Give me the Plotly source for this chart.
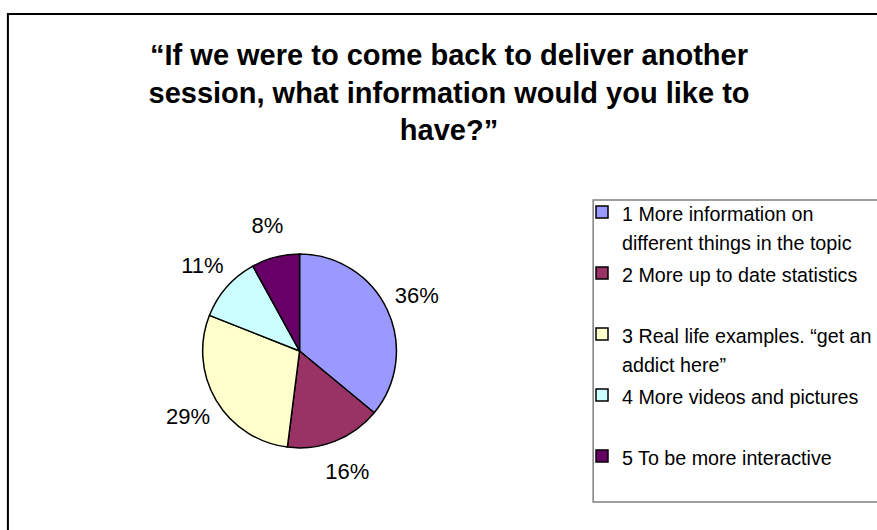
import plotly.graph_objects as go

# Survey answers (one string per answer, "\n" marks a wrapped legend line)
categories = [
    "1 More information on\ndifferent things in the topic",
    "2 More up to date statistics",
    "3 Real life examples. \u201cget an\naddict here\u201d",
    "4 More videos and pictures",
    "5 To be more interactive",
]
# Share of answers, percent
shares = [36, 16, 29, 11, 8]
slice_colors = ["#9999FF", "#993366", "#FFFFCC", "#CCFFFF", "#660066"]

title_lines = [
    "\u201cIf we were to come back to deliver another",
    "session, what information would you like to",
    "have?\u201d",
]

W, H = 877, 530
FONT = "Liberation Sans, Arial, sans-serif"
LEGEND_TEXT_PX = 19.7      # glyph size of legend entries
LEGEND_ROW_PX = 22.3       # sets the legend's line pitch (1.3 x this)
LABEL_PX = 22


def px_x(v):
    return v / W


def px_y(v):
    return 1 - v / H


def legend_label(text, last):
    lines = text.split("\n")
    parts = [f"<span style='font-size:{LEGEND_TEXT_PX}px'>{ln}</span>" for ln in lines]
    # every entry but the last occupies two rows so the entries are evenly pitched
    while len(parts) < 2 and not last:
        parts.append(" ")
    return "<br>".join(parts)


labels = [legend_label(c, i == len(categories) - 1) for i, c in enumerate(categories)]

# pie centre / radius in pixels
CX, CY, R = 303, 351, 98
# ring that carries the percentage labels around the pie
R_IN, R_OUT = 100, 162

fig = go.Figure()

fig.add_trace(
    go.Pie(
        labels=labels,
        values=shares,
        sort=False,
        direction="clockwise",
        rotation=0,
        marker=dict(colors=slice_colors, line=dict(color="black", width=1.5)),
        textinfo="none",
        domain=dict(x=[px_x(CX - R), px_x(CX + R)], y=[px_y(CY + R), px_y(CY - R)]),
        hoverinfo="percent",
        showlegend=True,
    )
)

# transparent ring holding the percent labels just outside the pie
fig.add_trace(
    go.Pie(
        labels=labels,
        values=shares,
        sort=False,
        direction="clockwise",
        rotation=0,
        hole=R_IN / R_OUT,
        marker=dict(colors=["rgba(0,0,0,0)"] * len(shares), line=dict(width=0)),
        texttemplate="%{percent:.0%}",
        textposition="inside",
        insidetextorientation="horizontal",
        insidetextfont=dict(family=FONT, size=LABEL_PX, color="black"),
        domain=dict(x=[px_x(CX - R_OUT), px_x(CX + R_OUT)],
                    y=[px_y(CY + R_OUT), px_y(CY - R_OUT)]),
        hoverinfo="skip",
        showlegend=False,
    )
)

fig.update_layout(
    width=W,
    height=H,
    margin=dict(l=0, r=0, t=0, b=0),
    paper_bgcolor="white",
    plot_bgcolor="white",
    font=dict(family=FONT, color="black"),
    title=dict(
        text="<b>" + "<br>".join(title_lines) + "</b>",
        font=dict(family=FONT, size=29, color="black"),
        x=px_x(449),
        xanchor="center",
        y=px_y(65),
        yanchor="middle",
        yref="paper",
    ),
    showlegend=True,
    legend=dict(
        x=px_x(589),
        xanchor="left",
        y=px_y(191),
        yanchor="top",
        font=dict(family=FONT, size=LEGEND_ROW_PX, color="black"),
        valign="top",
        bgcolor="rgba(0,0,0,0)",
        borderwidth=0,
        traceorder="normal",
    ),
    shapes=[
        # chart area frame
        dict(type="rect", xref="paper", yref="paper",
             x0=px_x(8), x1=1.05, y0=-0.05, y1=px_y(14),
             line=dict(color="black", width=2), fillcolor="rgba(0,0,0,0)",
             layer="below"),
        # legend frame
        dict(type="rect", xref="paper", yref="paper",
             x0=px_x(600), x1=1.05, y0=px_y(502), y1=px_y(200),
             line=dict(color="#808080", width=1.5), fillcolor="rgba(0,0,0,0)",
             layer="below"),
    ],
)

fig.write_html("out.html")
